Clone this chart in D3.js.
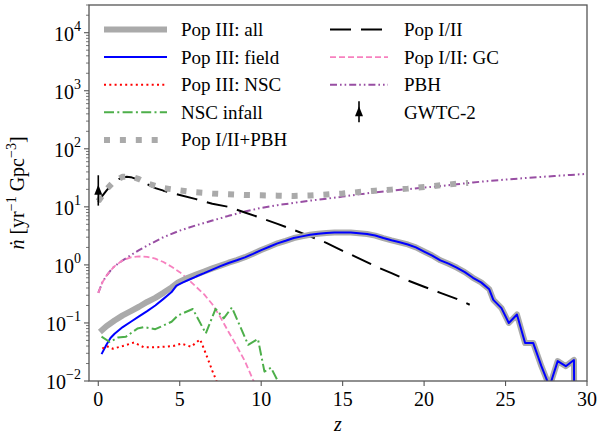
<!DOCTYPE html>
<html>
<head>
<meta charset="utf-8">
<script src="https://cdn.jsdelivr.net/npm/d3@7"></script>
<style>
  body { margin: 0; background: #fff; }
</style>
</head>
<body>
<div id="chart"></div>
<script>
// redshift / rate values
const zAll = [0.1, 0.5, 1, 1.5, 2, 2.5, 3, 3.5, 4, 4.5, 4.9, 5.5, 6, 6.5, 7, 7.5, 8, 8.5, 9, 9.5, 10, 10.5, 11, 11.5, 12, 12.5, 13, 13.5, 14, 14.5, 15, 15.5, 16, 16.5, 17, 17.5, 18, 18.5, 19, 19.5, 20, 20.5, 21, 21.5, 22, 22.5, 23, 23.5, 24, 24.25, 24.75, 25.2, 25.7, 26.2, 26.7, 27.2, 27.7, 28.2, 28.7, 29.2, 29.25];
const nAll = [0.07, 0.088, 0.11, 0.135, 0.16, 0.19, 0.23, 0.27, 0.33, 0.41, 0.5, 0.6, 0.68, 0.77, 0.87, 0.97, 1.09, 1.21, 1.36, 1.56, 1.8, 2.05, 2.35, 2.6, 2.9, 3.1, 3.3, 3.45, 3.55, 3.6, 3.62, 3.6, 3.5, 3.4, 3.2, 2.9, 2.65, 2.45, 2.25, 2.0, 1.7, 1.45, 1.2, 1.05, 0.9, 0.75, 0.6, 0.5, 0.38, 0.25, 0.18, 0.1, 0.14, 0.045, 0.045, 0.018, 0.008, 0.022, 0.018, 0.023, 0.0001];

const zField = [0.2, 0.5, 0.75, 1, 1.5, 2, 2.5, 3, 3.5, 4, 4.5, 4.8, 5.2, 5.6, 6, 6.5, 7, 7.5, 8, 8.5, 9, 9.5, 10, 10.5, 11, 11.5, 12, 12.5, 13, 13.5, 14, 14.5, 15, 15.5, 16, 16.5, 17, 17.5, 18, 18.5, 19, 19.5, 20, 20.5, 21, 21.5, 22, 22.5, 23, 23.5, 24, 24.25, 24.75, 25.2, 25.7, 26.2, 26.7, 27.2, 27.7, 28.2, 28.7, 29.2, 29.25];
const nField = [0.029, 0.042, 0.055, 0.065, 0.085, 0.105, 0.13, 0.16, 0.2, 0.26, 0.34, 0.44, 0.5, 0.56, 0.63, 0.72, 0.83, 0.95, 1.08, 1.2, 1.35, 1.55, 1.8, 2.05, 2.35, 2.6, 2.9, 3.1, 3.3, 3.45, 3.55, 3.6, 3.62, 3.6, 3.5, 3.4, 3.2, 2.9, 2.65, 2.45, 2.25, 2.0, 1.7, 1.45, 1.2, 1.05, 0.9, 0.75, 0.6, 0.5, 0.38, 0.25, 0.18, 0.1, 0.14, 0.045, 0.045, 0.018, 0.008, 0.022, 0.018, 0.023, 0.0001];

const zNSC = [0.25, 0.5, 0.9, 1.5, 2.2, 2.8, 3.5, 4.1, 4.6, 5.1, 5.7, 6.25, 6.5, 6.75, 7.0, 7.25, 7.5];
const nNSC = [0.036, 0.04, 0.036, 0.04, 0.046, 0.038, 0.038, 0.039, 0.04, 0.044, 0.039, 0.052, 0.035, 0.023, 0.015, 0.0101, 0.007];

const zInfall = [0.2, 0.7, 1.2, 1.7, 2.4, 2.8, 3.5, 4.5, 4.9, 5.8, 6.6, 7.2, 7.7, 8.2, 9.2, 9.8, 10.2, 10.6, 11.1];
const nInfall = [0.058, 0.047, 0.056, 0.058, 0.08, 0.085, 0.078, 0.105, 0.135, 0.174, 0.066, 0.175, 0.12, 0.185, 0.042, 0.053, 0.0145, 0.017, 0.009];

const zPopIIPBH = [0, 0.5, 1, 1.5, 2, 2.5, 3, 3.5, 4, 5, 6, 7, 8, 9, 10, 11, 12, 13, 14, 15, 16, 17, 18, 19, 20, 21, 22, 22.7];
const nPopIIPBH = [12.5, 20, 28, 33, 33.5, 30, 25.5, 23, 21, 19.2, 17.8, 17, 16.5, 16, 15.8, 15.6, 15.4, 15.7, 16.3, 17, 18, 19, 19.8, 20.6, 22, 23.5, 25, 25.8];

const zPopII = [0, 0.25, 0.5, 0.75, 1, 1.25, 1.5, 1.75, 2, 2.5, 3, 3.5, 4, 5, 6, 7, 8, 9, 10, 11, 12, 13, 14, 15, 16, 17, 18, 19, 20, 21, 22, 22.8];
const nPopII = [12, 15.5, 19, 23, 27, 30, 32, 33, 32.5, 29, 24.5, 21, 19, 16, 13.6, 11.3, 10, 8, 6.4, 5.1, 4.0, 3.1, 2.4, 1.75, 1.3, 0.95, 0.72, 0.54, 0.42, 0.33, 0.26, 0.206];

const zGC = [0, 0.25, 0.5, 0.75, 1, 1.5, 2, 2.5, 3, 3.5, 4, 4.5, 5, 5.5, 6, 6.5, 7, 7.5, 8, 8.5, 9, 9.5, 9.7];
const nGC = [0.33, 0.5, 0.65, 0.8, 0.95, 1.2, 1.35, 1.4, 1.38, 1.28, 1.12, 0.93, 0.75, 0.57, 0.42, 0.31, 0.21, 0.125, 0.07, 0.04, 0.022, 0.0105, 0.008];

const zPBH = [0, 0.25, 0.5, 0.75, 1, 1.5, 2, 2.5, 3, 4, 5, 6, 7, 8, 9, 10, 11, 12, 13, 14, 15, 16, 17, 18, 19, 20, 21, 22, 23, 24, 25, 26, 27, 28, 29, 30];
const nPBH = [0.33, 0.5, 0.65, 0.8, 0.95, 1.2, 1.47, 1.8, 2.15, 3.0, 3.9, 4.8, 5.8, 7.0, 8.3, 9.6, 10.7, 11.7, 12.8, 13.8, 15.0, 16.4, 17.8, 19.0, 20.2, 21.5, 22.8, 24.5, 26.3, 28, 29.5, 31, 32.5, 34, 35.5, 37];

// GWTC-2 point: z, central, lower, upper
const gwtcZ = [0];
const gwtcN = [19];
const gwtcLo = [10.5];
const gwtcHi = [35];

const xTicks = [0, 5, 10, 15, 20, 25, 30];
const yExps = [-2, -1, 0, 1, 2, 3, 4];

const width = 599, height = 437;
const margin = { left: 89, right: 12, top: 5, bottom: 56 };
const serif = "'Liberation Serif', 'Times New Roman', Times, 'DejaVu Serif', serif";

const svg = d3.select("#chart").append("svg")
  .attr("width", width).attr("height", height)
  .attr("font-family", serif)
  .style("font-family", serif);

const x = d3.scaleLinear().domain([-0.57, 30]).range([margin.left, width - margin.right]);
const y = d3.scaleLog().domain([0.01, 3e4]).range([height - margin.bottom, margin.top]);

svg.append("clipPath").attr("id", "clip")
  .append("rect")
  .attr("x", margin.left).attr("y", margin.top)
  .attr("width", width - margin.left - margin.right)
  .attr("height", height - margin.top - margin.bottom);

// line styles
const styles = {
  all:     { color: "#aaaaaa", width: 6,   dash: null },
  field:   { color: "#0000ff", width: 2,   dash: null },
  nsc:     { color: "#ff0000", width: 2,   dash: "2,3.3" },
  infall:  { color: "#4daf4a", width: 2,   dash: "10,3.3,2,3.3" },
  popPBH:  { color: "#aaaaaa", width: 6,   dash: "6,9.9" },
  popII:   { color: "#000000", width: 2,   dash: "21,10" },
  gc:      { color: "#f781bf", width: 1.8, dash: "6,3" },
  pbh:     { color: "#984ea3", width: 2,   dash: "7,3,1.6,3,1.6,3" }
};

const series = [
  { key: "pbh", z: zPBH, n: nPBH },
  { key: "gc", z: zGC, n: nGC },
  { key: "popII", z: zPopII, n: nPopII },
  { key: "popPBH", z: zPopIIPBH, n: nPopIIPBH },
  { key: "all", z: zAll, n: nAll },
  { key: "field", z: zField, n: nField },
  { key: "nsc", z: zNSC, n: nNSC },
  { key: "infall", z: zInfall, n: nInfall }
];

const line = d3.line().x(d => x(d[0])).y(d => y(d[1]));

const plot = svg.append("g").attr("clip-path", "url(#clip)");

series.forEach(s => {
  const st = styles[s.key];
  plot.append("path")
    .datum(s.z.map((z, i) => [z, s.n[i]]))
    .attr("d", line)
    .attr("fill", "none")
    .attr("stroke", st.color)
    .attr("stroke-width", st.width)
    .attr("stroke-dasharray", st.dash)
    .attr("stroke-linejoin", "round");
});

// GWTC-2 error bar with arrow marker
function gwtcMarker(g, cx, cy, top, bottom) {
  g.append("line")
    .attr("x1", cx).attr("x2", cx).attr("y1", top).attr("y2", bottom)
    .attr("stroke", "#000").attr("stroke-width", 1.6);
  g.append("path")
    .attr("d", `M${cx},${cy - 6} L${cx - 4},${cy + 4} L${cx + 4},${cy + 4} Z`)
    .attr("fill", "#000");
}
gwtcZ.forEach((z, i) => {
  gwtcMarker(plot, x(z), y(gwtcN[i]), y(gwtcHi[i]), y(gwtcLo[i]));
});

// axes frame
const axisColor = "#555";
svg.append("rect")
  .attr("x", margin.left).attr("y", margin.top)
  .attr("width", width - margin.left - margin.right)
  .attr("height", height - margin.top - margin.bottom)
  .attr("fill", "none").attr("stroke", axisColor).attr("stroke-width", 1.3);

const bottomY = height - margin.bottom;

// x ticks
xTicks.forEach(t => {
  svg.append("line")
    .attr("x1", x(t)).attr("x2", x(t)).attr("y1", bottomY).attr("y2", bottomY + 5)
    .attr("stroke", axisColor).attr("stroke-width", 1.1);
  svg.append("text")
    .attr("x", x(t)).attr("y", bottomY + 25)
    .attr("text-anchor", "middle").attr("font-size", 20)
    .text(t);
});

// y major ticks with 10^n labels
yExps.forEach(e => {
  const yy = y(Math.pow(10, e));
  svg.append("line")
    .attr("x1", margin.left - 5).attr("x2", margin.left).attr("y1", yy).attr("y2", yy)
    .attr("stroke", axisColor).attr("stroke-width", 1.1);
  const t = svg.append("text")
    .attr("x", margin.left - 8).attr("y", yy + 8)
    .attr("text-anchor", "end").attr("font-size", 20);
  t.append("tspan").text("10");
  t.append("tspan").attr("dy", -10).attr("font-size", 14)
    .text(e < 0 ? "\u2212" + (-e) : e);
});

// y minor ticks
for (let e = -2; e <= 4; e++) {
  for (let m = 2; m <= 9; m++) {
    const v = m * Math.pow(10, e);
    if (v > 3e4) break;
    const yy = y(v);
    svg.append("line")
      .attr("x1", margin.left - 3).attr("x2", margin.left).attr("y1", yy).attr("y2", yy)
      .attr("stroke", axisColor).attr("stroke-width", 0.8);
  }
}

// axis labels
svg.append("text")
  .attr("x", (margin.left + width - margin.right) / 2).attr("y", 431)
  .attr("text-anchor", "middle").attr("font-size", 20).attr("font-style", "italic")
  .text("z");

const yl = svg.append("text")
  .attr("transform", `translate(24, ${(margin.top + bottomY) / 2}) rotate(-90)`)
  .attr("text-anchor", "middle").attr("font-size", 20);
yl.append("tspan").attr("font-style", "italic").text("\u1E45");
yl.append("tspan").text(" [yr");
yl.append("tspan").attr("dy", -8).attr("font-size", 14).text("\u22121");
yl.append("tspan").attr("dy", 8).text(" Gpc");
yl.append("tspan").attr("dy", -8).attr("font-size", 14).text("\u22123");
yl.append("tspan").attr("dy", 8).text("]");

// legend
const legendCol1 = ["all", "field", "nsc", "infall", "popPBH"];
const legendCol1Labels = ["Pop III: all", "Pop III: field", "Pop III: NSC", "NSC infall", "Pop I/II+PBH"];
const legendCol2 = ["popII", "gc", "pbh", "gwtc"];
const legendCol2Labels = ["Pop I/II", "Pop I/II: GC", "PBH", "GWTC-2"];

function drawLegend(keys, labels, x0, x1, xt) {
  keys.forEach((k, i) => {
    const yy = 29.5 + i * 27.6;
    if (k === "gwtc") {
      gwtcMarker(svg, (x0 + x1) / 2, yy, yy - 11, yy + 10);
    } else {
      const st = styles[k];
      svg.append("line")
        .attr("x1", x0).attr("x2", x1).attr("y1", yy).attr("y2", yy)
        .attr("stroke", st.color).attr("stroke-width", st.width)
        .attr("stroke-dasharray", st.dash);
    }
    svg.append("text")
      .attr("x", xt).attr("y", yy + 6.5)
      .attr("font-size", 19)
      .text(labels[i]);
  });
}
drawLegend(legendCol1, legendCol1Labels, 104, 167, 181);
drawLegend(legendCol2, legendCol2Labels, 330, 388, 404);
</script>
</body>
</html>
